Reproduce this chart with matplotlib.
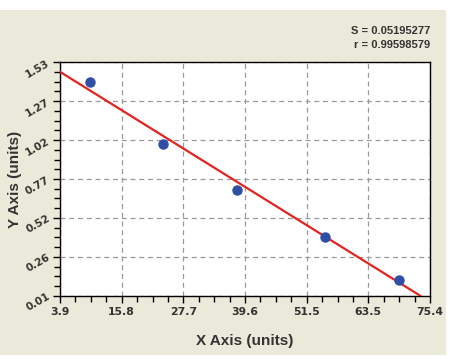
import numpy as np
import matplotlib
matplotlib.use('Agg')
import matplotlib.pyplot as plt
from matplotlib.ticker import FixedLocator, AutoMinorLocator
from matplotlib.patches import Rectangle

# measured points
x_pts = [9.7, 23.8, 38.2, 55.1, 69.4]
y_pts = [1.40, 0.996, 0.698, 0.394, 0.112]

# fitted line end points
x_fit = [3.9, 73.5]
y_fit = [1.468, 0.01]

x_ticklabels = ['3.9', '15.8', '27.7', '39.6', '51.5', '63.5', '75.4']
y_ticklabels = ['0.01', '0.26', '0.52', '0.77', '1.02', '1.27', '1.53']
x_lim = (3.9, 75.4)
y_lim = (0.01, 1.53)

stats_text = ['S = 0.05195277', 'r = 0.99598579']

plt.rcParams['font.family'] = ['Liberation Sans', 'DejaVu Sans']

fig = plt.figure(figsize=(4.53, 3.59), dpi=100)
fig.patch.set_facecolor('white')
fig.patches.append(Rectangle((0, 4/359), 446/453, 1 - 14/359, transform=fig.transFigure,
                             facecolor='#ebe9da', edgecolor='none', zorder=-1))

ax = fig.add_axes([60/453, 1 - 295.7/359, 370/453, 233.4/359])
ax.set_facecolor('white')

ax.plot(x_fit, y_fit, color='#e3231f', lw=1.6, zorder=3)
ax.plot(x_pts, y_pts, 'o', color='#2f4fa6', markersize=6.5, zorder=4)

ax.set_xlim(*x_lim)
ax.set_ylim(*y_lim)
ax.xaxis.set_major_locator(FixedLocator(np.linspace(x_lim[0], x_lim[1], 7)))
ax.yaxis.set_major_locator(FixedLocator(np.linspace(y_lim[0], y_lim[1], 7)))
ax.set_xticklabels(x_ticklabels, fontfamily='DejaVu Sans', fontweight='bold', fontsize=7.8,
                   color='#333333')
ax.set_yticklabels(y_ticklabels, fontfamily='DejaVu Sans', fontweight='bold', fontsize=7.5,
                   color='#333333', rotation=30, rotation_mode='anchor', ha='right', va='center')
ax.xaxis.set_minor_locator(AutoMinorLocator(4))
ax.yaxis.set_minor_locator(AutoMinorLocator(4))

ax.tick_params(which='major', length=5, width=1, color='black')
ax.tick_params(which='minor', length=4, width=1, color='black')
ax.tick_params(axis='x', pad=3)
ax.tick_params(axis='y', pad=3)

ax.grid(True, which='major', color='#9a9a9a', linestyle=(0, (4, 3)), linewidth=0.9)
ax.set_axisbelow(True)
for s in ax.spines.values():
    s.set_color('black')
    s.set_linewidth(1)

ax.set_xlabel('X Axis (units)', fontsize=11, fontweight='bold', color='#333333')
ax.set_ylabel('Y Axis (units)', fontsize=11, fontweight='bold', color='#333333')
ax.xaxis.set_label_coords(0.5, (295.7 - 334) / 233.4)
ax.yaxis.set_label_coords((22 - 60) / 370, 0.5)

fig.text(430/453, 1 - 31/359, stats_text[0], ha='right', va='center', fontsize=8,
         fontweight='bold', color='#333333')
fig.text(430/453, 1 - 45/359, stats_text[1], ha='right', va='center', fontsize=8,
         fontweight='bold', color='#333333')

fig.savefig('out.png', dpi=100, facecolor=fig.get_facecolor())
